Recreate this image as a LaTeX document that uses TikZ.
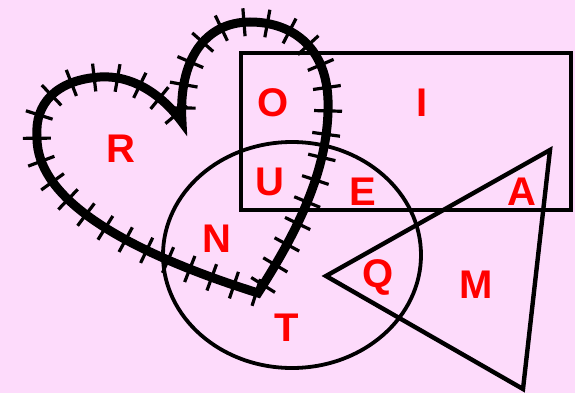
\documentclass[tikz,border=0pt]{standalone}
\usepackage{fontspec}
\setmainfont{Liberation Sans}
\usetikzlibrary{decorations.markings}
\definecolor{bgpink}{RGB}{253,219,251}
\definecolor{lblred}{RGB}{255,0,0}
\tikzset{
  lbl/.style={text=lblred, font=\fontsize{40}{40}\selectfont\bfseries, inner sep=0pt, anchor=center},
  shapeline/.style={draw=black, line width=4.4pt, line join=miter},
  heartline/.style={draw=black, line width=9pt, line join=miter, miter limit=20,
    postaction={decorate, decoration={markings,
      mark=between positions 0.01 and 1 step 23.5pt with {\draw[line width=3.2pt] (0,-14pt) -- (0,14pt);}}}}
}
\begin{document}
\begin{tikzpicture}[x=1pt,y=-1pt]
\fill[bgpink] (0,0) rectangle (575,393);
\useasboundingbox (0,0) rectangle (575,393);
% rectangle
\draw[shapeline] (241,53) rectangle (571,210);
% circle
\draw[shapeline, line width=3.8pt] (292,255) ellipse [x radius=129, y radius=113];
% triangle
\draw[shapeline] (326,276) -- (550,150) -- (523,389) -- cycle;
% heart
\draw[heartline] (258,293) .. controls (295,235) and (330,170) .. (328,100)
  .. controls (326,45) and (290,22) .. (250,22)
  .. controls (205,22) and (178,60) .. (182,122)
  .. controls (160,92) and (130,75) .. (100,77)
  .. controls (55,80) and (35,105) .. (37,135)
  .. controls (35,185) and (90,240) .. (258,293) -- cycle;
% labels
\node[lbl] (O) at (273,103) {O};
\node[lbl] (R) at (121,149) {R};
\node[lbl] (U) at (270,182) {U};
\node[lbl] (N) at (217,239) {N};
\node[lbl] (I) at (422,103) {I};
\node[lbl] (E) at (363,192) {E};
\node[lbl] (A) at (522,192) {A};
\node[lbl] (Q) at (378,277) {Q};
\node[lbl] (M) at (476,285) {M};
\node[lbl] (T) at (287,328) {T};
\end{tikzpicture}
\end{document}
